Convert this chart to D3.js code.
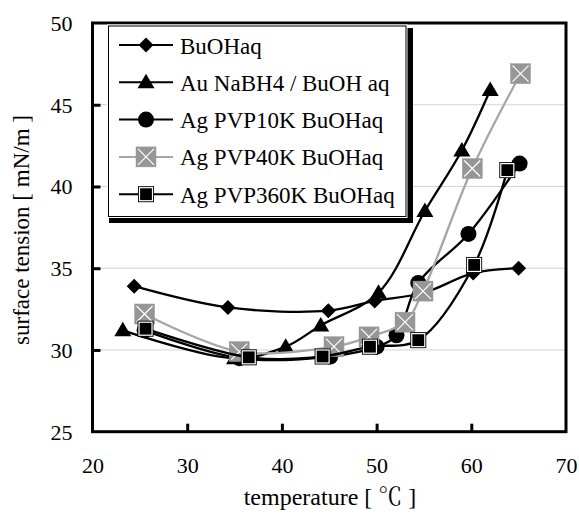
<!DOCTYPE html>
<html>
<head>
<meta charset="utf-8">
<script src="https://cdn.jsdelivr.net/npm/d3@7"></script>
</head>
<body style="margin:0; background:#fff">
<div id="chart"></div>
<script>
// Series names, as in the legend
var seriesNames = ['BuOHaq', 'Au NaBH4 / BuOH aq', 'Ag PVP10K BuOHaq', 'Ag PVP40K BuOHaq', 'Ag PVP360K BuOHaq'];

// Temperatures [C] and surface tension [mN/m]
var buohT = [24.4, 34.3, 44.9, 49.8, 55.0, 60.2, 65.0];
var buohV = [33.9, 32.6, 32.4, 33.0, 33.5, 34.7, 35.0];

var auT = [23.2, 35.0, 40.4, 44.1, 50.2, 55.1, 59.0, 62.0];
var auV = [31.2, 29.5, 30.2, 31.5, 33.5, 38.5, 42.2, 45.9];

var pvp10T = [25.5, 35.5, 45.1, 50.0, 52.1, 54.4, 59.7, 65.1];
var pvp10V = [31.2, 29.5, 29.6, 30.2, 30.9, 34.1, 37.1, 41.4];

var pvp40T = [25.5, 35.5, 45.5, 49.2, 53.0, 54.9, 60.1, 65.2];
var pvp40V = [32.2, 29.9, 30.2, 30.8, 31.7, 33.6, 41.1, 46.9];

var pvp360T = [25.6, 36.5, 44.3, 49.3, 54.4, 60.3, 63.8];
var pvp360V = [31.3, 29.55, 29.6, 30.2, 30.6, 35.2, 41.0];

var xTicks = [20, 30, 40, 50, 60, 70];
var yTicks = [25, 30, 35, 40, 45, 50];

var SERIF = 'Liberation Serif';

var W = 579, H = 514;
var svg = d3.select('#chart').append('svg').attr('width', W).attr('height', H);

var x = d3.scaleLinear().domain([20, 70]).range([92.5, 566]);
var y = d3.scaleLinear().domain([25, 50]).range([431.7, 23]);

// gridlines
svg.append('g').selectAll('line')
  .data(yTicks.slice(1, -1))
  .enter().append('line')
  .attr('x1', x(20)).attr('x2', x(70))
  .attr('y1', function(d) { return y(d); })
  .attr('y2', function(d) { return y(d); })
  .style('stroke', '#d4d4d4').style('stroke-width', 1);

// axes with inward ticks
var xAxis = d3.axisBottom(x).tickValues(xTicks).tickSizeInner(-8).tickSizeOuter(0).tickPadding(26);
var yAxis = d3.axisLeft(y).tickValues(yTicks).tickSizeInner(-8).tickSizeOuter(0).tickPadding(20);

var gx = svg.append('g').attr('transform', 'translate(0,' + y(25) + ')').call(xAxis);
var gy = svg.append('g').attr('transform', 'translate(' + x(20) + ',0)').call(yAxis);
[gx, gy].forEach(function(g) {
  g.attr('font-family', SERIF).attr('font-size', 22);
  g.select('.domain').remove();
  g.selectAll('line').style('stroke', '#000').style('stroke-width', 3);
  g.selectAll('text').attr('font-family', SERIF).attr('font-size', 22).attr('fill', '#000');
});
gx.selectAll('.tick').filter(function(d) { return d === 20 || d === 70; }).select('line').remove();
gy.selectAll('.tick').filter(function(d) { return d === 25 || d === 50; }).select('line').remove();
gx.selectAll('text').attr('dy', '0.71em');
gy.selectAll('text').attr('dy', '0.34em');

// plot frame
svg.append('rect')
  .attr('x', x(20)).attr('y', y(50))
  .attr('width', x(70) - x(20)).attr('height', y(25) - y(50))
  .style('fill', 'none').style('stroke', '#000').style('stroke-width', 3);

// axis titles
svg.append('text')
  .attr('transform', 'translate(29,230) rotate(-90)')
  .attr('text-anchor', 'middle')
  .attr('font-family', SERIF).attr('font-size', 23)
  .text('surface tension [ mN/m ]');
var xt = svg.append('text')
  .attr('x', 330).attr('y', 505)
  .attr('text-anchor', 'middle')
  .attr('font-family', SERIF).attr('font-size', 24);
xt.append('tspan').text('temperature [ ');
xt.append('tspan').attr('font-family', 'Noto Serif CJK JP').text('\u2103');
xt.append('tspan').text(' ]');

// marker drawing
function drawMarker(g, kind) {
  if (kind === 'diamond') {
    g.append('path').attr('d', 'M0,-7.5L7.5,0L0,7.5L-7.5,0Z').style('fill', '#000');
  } else if (kind === 'triangle') {
    g.append('path').attr('d', 'M0,-8.5L8.5,6L-8.5,6Z').style('fill', '#000');
  } else if (kind === 'circle') {
    g.append('circle').attr('r', 8).style('fill', '#000');
  } else if (kind === 'xsquare') {
    g.append('rect').attr('x', -10).attr('y', -10).attr('width', 20).attr('height', 20)
      .style('fill', '#969696').style('stroke', '#9c9c9c').style('stroke-width', 0.5);
    g.append('path').attr('d', 'M-8,-8L8,8M8,-8L-8,8')
      .style('stroke', '#fff').style('stroke-width', 1.2).style('fill', 'none');
  } else if (kind === 'square') {
    g.append('rect').attr('x', -8).attr('y', -8).attr('width', 16).attr('height', 16)
      .style('fill', '#000');
    g.append('rect').attr('x', -6.5).attr('y', -6.5).attr('width', 13).attr('height', 13)
      .style('fill', '#000').style('stroke', '#fff').style('stroke-width', 1.2);
  }
}

var series = [
  { name: seriesNames[0], t: buohT, v: buohV, marker: 'diamond', color: '#000' },
  { name: seriesNames[1], t: auT, v: auV, marker: 'triangle', color: '#000' },
  { name: seriesNames[2], t: pvp10T, v: pvp10V, marker: 'circle', color: '#000' },
  { name: seriesNames[3], t: pvp40T, v: pvp40V, marker: 'xsquare', color: '#a6a6a6' },
  { name: seriesNames[4], t: pvp360T, v: pvp360V, marker: 'square', color: '#000' }
];

var line = d3.line()
  .x(function(d) { return x(d[0]); })
  .y(function(d) { return y(d[1]); })
  .curve(d3.curveCatmullRom.alpha(0.5));

series.forEach(function(s) {
  var pts = s.t.map(function(t, i) { return [t, s.v[i]]; });
  var g = svg.append('g');
  g.append('path').datum(pts).attr('d', line)
    .style('fill', 'none').style('stroke', s.color).style('stroke-width', 2.3);
  pts.forEach(function(p) {
    drawMarker(g.append('g').attr('transform', 'translate(' + x(p[0]) + ',' + y(p[1]) + ')'), s.marker);
  });
});

// legend with shadow
var lg = svg.append('g');
lg.append('rect').attr('x', 109).attr('y', 28).attr('width', 304).attr('height', 195).style('fill', '#000');
lg.append('rect').attr('x', 107).attr('y', 24.5).attr('width', 300.5).attr('height', 193.5)
  .style('fill', '#fff');
lg.append('rect').attr('x', 108.5).attr('y', 26).attr('width', 297.5).attr('height', 190.5)
  .style('fill', '#fff').style('stroke', '#000').style('stroke-width', 1);

series.forEach(function(s, i) {
  var cy = 45 + i * 37.3;
  lg.append('line').attr('x1', 119).attr('x2', 173).attr('y1', cy).attr('y2', cy)
    .style('stroke', s.color).style('stroke-width', 2);
  drawMarker(lg.append('g').attr('transform', 'translate(146,' + cy + ')'), s.marker);
  lg.append('text').attr('x', 180).attr('y', cy + 8.5)
    .attr('font-family', SERIF).attr('font-size', 23)
    .text(s.name);
});
</script>
</body>
</html>
